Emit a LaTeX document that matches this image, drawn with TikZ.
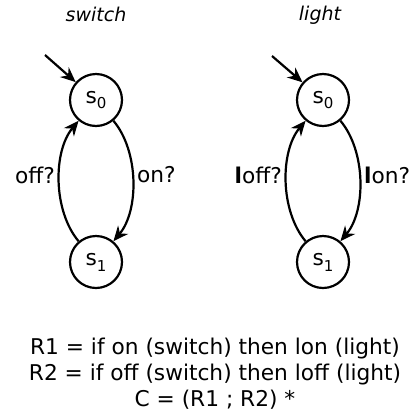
\documentclass[tikz,border=0pt]{standalone}
\usepackage{fontspec}
\setmainfont{DejaVu Sans}
\usetikzlibrary{arrows.meta,positioning,automata}

\newcommand{\sub}[1]{s\raisebox{-0.5ex}{\fontsize{15}{15}\selectfont #1}}

\begin{document}
\begin{tikzpicture}[>={Stealth[length=15pt,width=13pt]},node distance=162pt,on grid,
  every state/.style={draw,circle,line width=2.2pt,minimum size=52pt,inner sep=0pt},
  font=\fontsize{21.7}{26}\selectfont]
  \useasboundingbox (0pt,0pt) rectangle (419pt,-413pt);
  % switch automaton
  \node[state]          (S0) at (96pt,-100pt)      {\sub{0}};
  \node[state]          (S1) [below =of S0]        {\sub{1}};
  % light automaton
  \node[state]          (L0) [right =227pt of S0]  {\sub{0}};
  \node[state]          (L1) [below =of L0]        {\sub{1}};
  \coordinate           (SI) at (45pt,-55pt);
  \coordinate           (LI) at (272pt,-56pt);
  \node[font=\fontsize{19}{19}\selectfont\itshape] (SN) at (96pt,-14pt)  {switch};
  \node[font=\fontsize{19}{19}\selectfont\itshape] (LN) at (320pt,-15pt) {light};
\tikzset{mystyle/.style={->,line width=2.2pt}}
\draw[mystyle] (SI) -- (S0);
\draw[mystyle] (LI) -- (L0);
\tikzset{mystyle/.style={->,line width=2.2pt,relative=false,out=-50,in=50,looseness=0.85}}
\path (S0)     edge [mystyle]   node [right,yshift=6pt]  {on?} (S1)
      (L0)     edge [mystyle]   node [right,yshift=6pt]  {\textbf{l}on?} (L1);
\tikzset{mystyle/.style={->,line width=2.2pt,relative=false,out=130,in=-130,looseness=0.85}}
\path (S1)     edge [mystyle]   node [left,yshift=6pt]   {off?} (S0)
      (L1)     edge [mystyle]   node [left,yshift=6pt]   {\textbf{l}off?} (L0);
  \node[align=center]   (RL) at (215pt,-374pt)
    {R1 = if on (switch) then lon (light)\\R2 = if off (switch) then loff (light)\\C = (R1 ; R2) *};
\end{tikzpicture}
\end{document}
